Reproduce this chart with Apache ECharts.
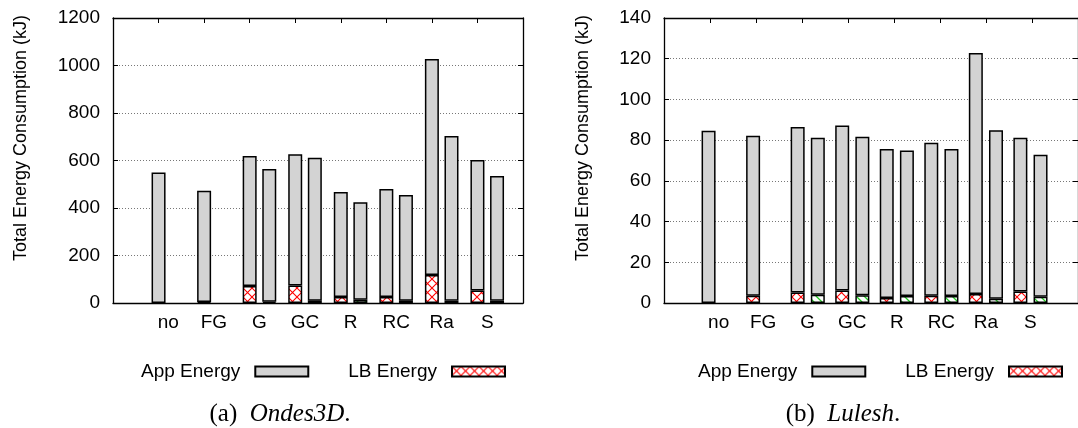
<!DOCTYPE html>
<html>
<head>
<meta charset="utf-8">
<script src="https://cdn.jsdelivr.net/npm/echarts@6/dist/echarts.min.js"></script>
<style>
  html, body { margin: 0; padding: 0; background: #fff; }
  #chart { width: 1078px; height: 428px; }
</style>
</head>
<body>
<div id="chart"></div>
<script>
// Load-balancer variants, one cluster per variant
const categories = ['no', 'FG', 'G', 'GC', 'R', 'RC', 'Ra', 'S'];

// Ondes3D energy (kJ): first and second bar of each cluster
const ondesAppFirst  = [550, 469, 547, 552, 442, 455, 909, 549];
const ondesLbFirst   = [null, 4, 72, 74, 25, 25, 118, 53];
const ondesAppSecond = [null, null, 559, 602, 410, 445, 694, 526];
const ondesLbSecond  = [null, null, 5, 10, 14, 10, 9, 9];

// Lulesh energy (kJ)
const luleshAppFirst  = [84.6, 78.5, 81.3, 81.1, 73.2, 75.1, 118.4, 75.6];
const luleshLbFirst   = [null, 3.6, 5.1, 6.1, 2.5, 3.6, 4.4, 5.6];
const luleshAppSecond = [null, null, 77.1, 77.9, 71.5, 72.2, 82.7, 69.7];
const luleshLbSecond  = [null, null, 4.1, 3.8, 3.4, 3.4, 2.1, 3.1];

// Y axis ranges [max, step]
const ondesYAxis = [1200, 200];
const luleshYAxis = [140, 20];

const SANS = '"Liberation Sans", Arial, Helvetica, sans-serif';
const SERIF = '"Liberation Serif", "Times New Roman", serif';

// one empty slot on each side of the clusters
function pad(arr) {
  return ['-'].concat(arr.map(v => (v === null ? '-' : v)), ['-']);
}
const paddedCats = [''].concat(categories, ['']);

function crossHatch() {
  const s = 9;
  const c = document.createElement('canvas');
  c.width = s; c.height = s;
  const g = c.getContext('2d');
  g.fillStyle = '#ffffff';
  g.fillRect(0, 0, s, s);
  g.strokeStyle = '#ff0000';
  g.lineWidth = 1.1;
  g.beginPath();
  g.moveTo(-1, -1); g.lineTo(s + 1, s + 1);
  g.moveTo(s + 1, -1); g.lineTo(-1, s + 1);
  g.stroke();
  return { image: c, repeat: 'repeat' };
}

function diagHatch() {
  const s = 8;
  const c = document.createElement('canvas');
  c.width = s; c.height = s;
  const g = c.getContext('2d');
  g.fillStyle = '#ffffff';
  g.fillRect(0, 0, s, s);
  g.strokeStyle = '#22cc22';
  g.lineWidth = 1.3;
  g.beginPath();
  g.moveTo(-1, -1); g.lineTo(s + 1, s + 1);
  g.moveTo(-1, s - 1); g.lineTo(1, s + 1);
  g.moveTo(s - 1, -1); g.lineTo(s + 1, 1);
  g.stroke();
  return { image: c, repeat: 'repeat' };
}

const RED_HATCH = crossHatch();
const GREEN_HATCH = diagHatch();
const APP_GRAY = '#d3d3d3';

function bar(name, stack, data, fill, xi, yi, gap) {
  return {
    type: 'bar', name: name, stack: stack, data: pad(data),
    xAxisIndex: xi, yAxisIndex: yi,
    barWidth: 14, barGap: gap,
    itemStyle: { color: fill, borderColor: '#000', borderWidth: 1.5 },
    emphasis: { disabled: true },
    silent: true
  };
}

const frameLine = { show: true, onZero: false, lineStyle: { color: '#000', width: 1.3 } };
const innerTick = { show: true, inside: true, length: 5, lineStyle: { color: '#000', width: 1 } };

// frame axes: box, dotted grid lines, inside ticks
function frameAxes(gridIndex, yRange) {
  const x = [
    { type: 'value', gridIndex: gridIndex, min: 0, max: 9, interval: 1, position: 'bottom',
      axisLine: frameLine, axisTick: { show: false }, axisLabel: { show: false }, splitLine: { show: false } },
    { type: 'value', gridIndex: gridIndex, min: 0, max: 9, interval: 1, position: 'top',
      axisLine: frameLine, axisTick: innerTick, axisLabel: { show: false }, splitLine: { show: false } }
  ];
  const y = [
    { type: 'value', gridIndex: gridIndex, min: 0, max: yRange[0], interval: yRange[1], position: 'left',
      axisLine: frameLine, axisTick: innerTick,
      axisLabel: { show: true, margin: 13, fontSize: 19, color: '#000', fontFamily: SANS,
                   formatter: v => String(v) },
      splitLine: { show: true, lineStyle: { color: '#777', type: [1, 2], width: 1 } } },
    { type: 'value', gridIndex: gridIndex, min: 0, max: yRange[0], interval: yRange[1], position: 'right',
      axisLine: frameLine, axisTick: innerTick, axisLabel: { show: false }, splitLine: { show: false } }
  ];
  return { x: x, y: y };
}

function barAxes(gridIndex, yRange) {
  return {
    x: { type: 'category', gridIndex: gridIndex, data: paddedCats, boundaryGap: false,
         axisLine: { show: false }, axisTick: { show: false }, splitLine: { show: false },
         axisLabel: { show: true, interval: 0, margin: 10, fontSize: 19, color: '#000', fontFamily: SANS } },
    y: { type: 'value', gridIndex: gridIndex, min: 0, max: yRange[0], show: false }
  };
}

const fL = frameAxes(0, ondesYAxis);
const bL = barAxes(1, ondesYAxis);
const fR = frameAxes(2, luleshYAxis);
const bR = barAxes(3, luleshYAxis);

const legendBase = {
  data: ['App Energy', 'LB Energy'],
  align: 'right', icon: 'rect', itemWidth: 53, itemHeight: 10, itemGap: 39,
  selectedMode: false, top: 357,
  textStyle: { fontSize: 19, color: '#000', fontFamily: SANS, padding: [0, 10, 0, 0] }
};

const captionRich = {
  n: { fontSize: 25, fontFamily: SERIF, fill: '#000' },
  i: { fontSize: 25, fontFamily: SERIF, fontStyle: 'italic', fill: '#000' }
};

const option = {
  animation: false,
  backgroundColor: '#fff',
  grid: [
    { left: 113, top: 18, width: 410, height: 285 },
    { left: 122.8, top: 18, width: 410, height: 285 },
    { left: 664, top: 18, width: 426, height: 285 },
    { left: 674.1, top: 18, width: 426, height: 285 }
  ],
  xAxis: [fL.x[0], fL.x[1], bL.x, fR.x[0], fR.x[1], bR.x],
  yAxis: [fL.y[0], fL.y[1], bL.y, fR.y[0], fR.y[1], bR.y],
  legend: [
    Object.assign({}, legendBase, { left: 136 }),
    Object.assign({}, legendBase, { left: 693 })
  ],
  series: [
    bar('LB Energy', 'o1', ondesLbFirst, RED_HATCH, 2, 2, '40%'),
    bar('App Energy', 'o1', ondesAppFirst, APP_GRAY, 2, 2, '40%'),
    bar('LB Energy', 'o2', ondesLbSecond, GREEN_HATCH, 2, 2, '40%'),
    bar('App Energy', 'o2', ondesAppSecond, APP_GRAY, 2, 2, '40%'),
    bar('LB Energy', 'l1', luleshLbFirst, RED_HATCH, 5, 5, '44%'),
    bar('App Energy', 'l1', luleshAppFirst, APP_GRAY, 5, 5, '44%'),
    bar('LB Energy', 'l2', luleshLbSecond, GREEN_HATCH, 5, 5, '44%'),
    bar('App Energy', 'l2', luleshAppSecond, APP_GRAY, 5, 5, '44%')
  ],
  graphic: [
    { type: 'text', x: 21, y: 138, rotation: Math.PI / 2, silent: true,
      style: { text: 'Total Energy Consumption (kJ)', fontSize: 18, fontFamily: SANS, fill: '#000',
               align: 'center', verticalAlign: 'middle' } },
    { type: 'text', x: 583, y: 138, rotation: Math.PI / 2, silent: true,
      style: { text: 'Total Energy Consumption (kJ)', fontSize: 18, fontFamily: SANS, fill: '#000',
               align: 'center', verticalAlign: 'middle' } },
    { type: 'text', x: 280, y: 414, silent: true,
      style: { text: '{n|(a)}  {i|Ondes3D}{n|.}', fontSize: 25, fontFamily: SERIF, fill: '#000',
               align: 'center', verticalAlign: 'middle', rich: captionRich } },
    { type: 'text', x: 843, y: 414, silent: true,
      style: { text: '{n|(b)}  {i|Lulesh}{n|.}', fontSize: 25, fontFamily: SERIF, fill: '#000',
               align: 'center', verticalAlign: 'middle', rich: captionRich } }
  ]
};

const chart = echarts.init(document.getElementById('chart'), null, { renderer: 'canvas' });
chart.setOption(option);
</script>
</body>
</html>
